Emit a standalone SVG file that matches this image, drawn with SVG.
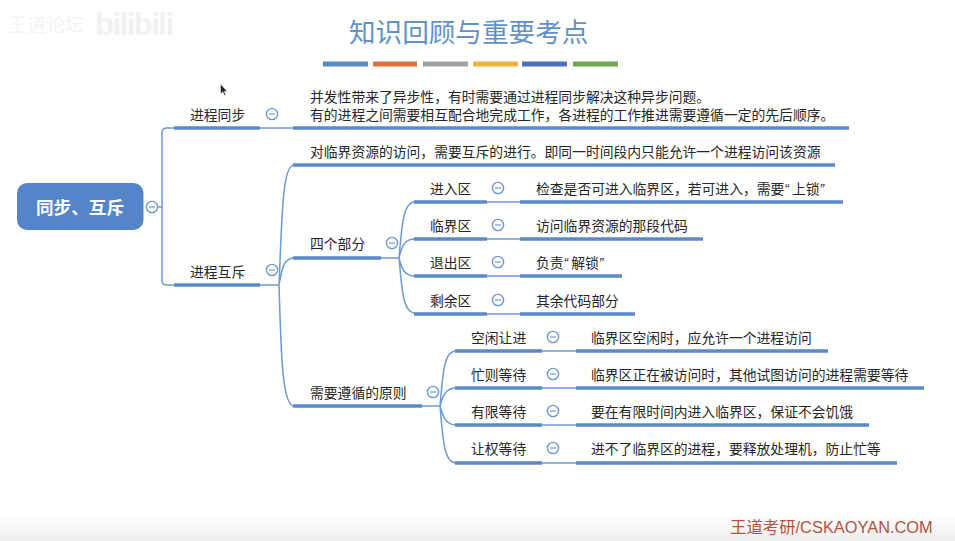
<svg xmlns="http://www.w3.org/2000/svg" width="955" height="541" viewBox="0 0 955 541">
<style>
text{font-family:"Liberation Sans","Noto Sans CJK SC",sans-serif;font-size:13.8px;fill:#262626}
.th{stroke:#5b8ac8;stroke-width:3.6;fill:none}
.tn{stroke:#6d9ad2;stroke-width:1.5;fill:none}
.cc{fill:#fff;stroke:#6d97cf;stroke-width:1.4}
.cm{stroke:#7f9fc9;stroke-width:1.3}
.q{font-style:italic;letter-spacing:3px}
</style>
<defs>
<linearGradient id="foot" x1="0" y1="0" x2="0" y2="1"><stop offset="0" stop-color="#fff"/><stop offset="1" stop-color="#eeeeee"/></linearGradient>
<g id="minus"><circle class="cc" r="5.6"/><line class="cm" x1="-3" x2="3"/></g>
</defs>
<rect width="955" height="541" fill="#fff"/>
<rect y="515" width="955" height="26" fill="url(#foot)"/>
<g id="watermark">
<text x="8" y="32" style="font-size:19px;fill:#f4f4f4">王道论坛</text>
<text x="95" y="35" style="font-size:31px;font-weight:bold;fill:#f1f1f1;letter-spacing:-1.5px">bilibili</text>
</g>
<path id="cursor" d="M220.500 84v10l2.300-2.200 1.700 3.700 1.300-.6-1.600-3.500h3z" fill="#222" stroke="#fff" stroke-width=".5"/>
<g id="title">
<text x="349" y="42" style="font-size:26.600px;fill:#5f92c9">知识回顾与重要考点</text>
<rect x="323" y="61.500" width="45" height="5" fill="#5b8ac8"/>
<rect x="373" y="61.500" width="44" height="5" fill="#dd7542"/>
<rect x="423" y="61.500" width="45" height="5" fill="#a3a3a3"/>
<rect x="473" y="61.500" width="45" height="5" fill="#f0b540"/>
<rect x="522" y="61.500" width="45" height="5" fill="#4a71b5"/>
<rect x="573" y="61.500" width="45" height="5" fill="#6fa84f"/>
</g>
<g id="connectors">
<path class="tn" d="M158 207H162M174 128H167Q162 128 162 133V280Q162 285 167 285H174"/>
<path class="tn" d="M260 128H293M260 285H279"/>
<path class="tn" d="M279 285C282 220 282 165 294 165M279 285C282 268 284 258 294 258M279 285C281 340 281 406 294 406"/>
<path class="tn" d="M381 258H399M399 258C402 225 403 202 415 202M399 258C402 245 405 239 415 239M399 258C402 270 405 276 415 276M399 258C402 290 403 313 415 313"/>
<path class="tn" d="M487 202H520M487 239H520M487 276H520M487 314H520"/>
<path class="tn" d="M422 406H440M440 406C443 372 444 351 456 351M440 406C443 395 446 388 456 388M440 406C443 417 446 425 456 425M440 406C443 440 444 463 456 463"/>
<path class="tn" d="M542 351H576M542 388H576M542 425H576M542 463H576"/>
</g>
<g id="root">
<rect x="17" y="183" width="126.500" height="47" rx="10" fill="#5585c9"/>
<text x="36" y="214" style="font-size:17.600px;font-weight:bold;fill:#fff">同步、互斥</text>
<use href="#minus" x="152" y="207"/>
</g>
<g id="n-tongbu">
<text x="190" y="120">进程同步</text>
<line class="th" x1="174" y1="128" x2="260" y2="128"/>
<use href="#minus" x="272" y="114"/>
</g>
<g id="n-tongbu-desc">
<text x="310" y="102">并发性带来了异步性，有时需要通过进程同步解决这种异步问题。</text>
<text x="310" y="120">有的进程之间需要相互配合地完成工作，各进程的工作推进需要遵循一定的先后顺序。</text>
<line class="th" x1="293" y1="128" x2="849" y2="128"/>
</g>
<g id="n-huchi">
<text x="190" y="277">进程互斥</text>
<line class="th" x1="174" y1="285" x2="260" y2="285"/>
<use href="#minus" x="272" y="270"/>
</g>
<g id="n-huchi-desc">
<text x="310" y="157">对临界资源的访问，需要互斥的进行。即同一时间段内只能允许一个进程访问该资源</text>
<line class="th" x1="293" y1="165" x2="835" y2="165"/>
</g>
<g id="n-sige">
<text x="310" y="249">四个部分</text>
<line class="th" x1="293" y1="258" x2="381" y2="258"/>
<use href="#minus" x="392" y="243"/>
</g>
<g id="n-jinru">
<text x="430" y="194">进入区</text>
<line class="th" x1="414" y1="202" x2="487" y2="202"/>
<use href="#minus" x="498" y="188"/>
<text x="536" y="194">检查是否可进入临界区，若可进入，需要<tspan class="q">“</tspan>上锁<tspan class="q">”</tspan></text>
<line class="th" x1="520" y1="202" x2="843" y2="202"/>
</g>
<g id="n-linjie">
<text x="430" y="231">临界区</text>
<line class="th" x1="414" y1="239" x2="487" y2="239"/>
<use href="#minus" x="498" y="225"/>
<text x="536" y="231">访问临界资源的那段代码</text>
<line class="th" x1="520" y1="239" x2="703" y2="239"/>
</g>
<g id="n-tuichu">
<text x="430" y="268">退出区</text>
<line class="th" x1="414" y1="276" x2="487" y2="276"/>
<use href="#minus" x="498" y="262"/>
<text x="536" y="268">负责<tspan class="q">“</tspan>解锁<tspan class="q">”</tspan></text>
<line class="th" x1="520" y1="276" x2="622" y2="276"/>
</g>
<g id="n-shengyu">
<text x="430" y="306">剩余区</text>
<line class="th" x1="414" y1="314" x2="487" y2="314"/>
<use href="#minus" x="498" y="300"/>
<text x="536" y="306">其余代码部分</text>
<line class="th" x1="520" y1="314" x2="635" y2="314"/>
</g>
<g id="n-yuanze">
<text x="310" y="398">需要遵循的原则</text>
<line class="th" x1="293" y1="406" x2="422" y2="406"/>
<use href="#minus" x="433" y="392"/>
</g>
<g id="n-kongxian">
<text x="471" y="343">空闲让进</text>
<line class="th" x1="455" y1="351" x2="542" y2="351"/>
<use href="#minus" x="553" y="337"/>
<text x="591" y="343">临界区空闲时，应允许一个进程访问</text>
<line class="th" x1="576" y1="351" x2="828" y2="351"/>
</g>
<g id="n-mangze">
<text x="471" y="380">忙则等待</text>
<line class="th" x1="455" y1="388" x2="542" y2="388"/>
<use href="#minus" x="553" y="374"/>
<text x="591" y="380">临界区正在被访问时，其他试图访问的进程需要等待</text>
<line class="th" x1="576" y1="388" x2="924" y2="388"/>
</g>
<g id="n-youxian">
<text x="471" y="417">有限等待</text>
<line class="th" x1="455" y1="425" x2="542" y2="425"/>
<use href="#minus" x="553" y="411"/>
<text x="591" y="417">要在有限时间内进入临界区，保证不会饥饿</text>
<line class="th" x1="576" y1="425" x2="869" y2="425"/>
</g>
<g id="n-rangquan">
<text x="471" y="454">让权等待</text>
<line class="th" x1="455" y1="463" x2="542" y2="463"/>
<use href="#minus" x="553" y="448"/>
<text x="591" y="454">进不了临界区的进程，要释放处理机，防止忙等</text>
<line class="th" x1="576" y1="463" x2="897" y2="463"/>
</g>
<g id="footer">
<text x="730" y="533" style="font-size:16.400px;fill:#b5533c">王道考研/CSKAOYAN.COM</text>
</g>
</svg>
